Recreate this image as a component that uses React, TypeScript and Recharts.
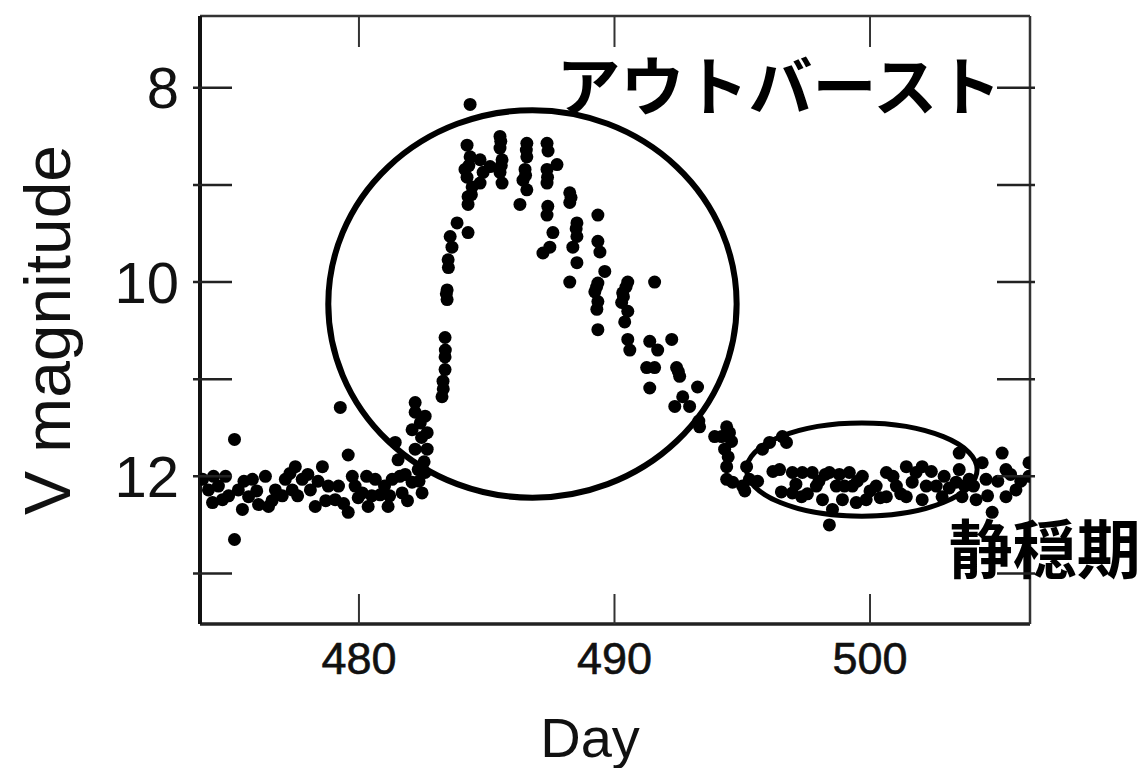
import React from 'react';
import { ScatterChart, Scatter, XAxis, YAxis, ReferenceArea, ReferenceDot, Label } from 'recharts';

// [day, V magnitude] pairs
const quiescenceBefore: [number, number][] = [
  [473.88, 12.03], [474.11, 12.14], [474.31, 12.0], [474.27, 12.27], [474.78, 12.0], [474.66, 12.24],
  [475.28, 12.14], [475.44, 12.34], [475.13, 11.62], [475.13, 12.65], [475.83, 12.03], [475.68, 12.21],
  [476.07, 12.29], [476.34, 12.0], [476.46, 12.31], [476.73, 12.14], [477.12, 12.03], [477.51, 11.9],
  [477.39, 12.14], [477.78, 12.03], [478.1, 12.14], [478.29, 12.31], [478.57, 11.9], [478.8, 12.1],
  [479.07, 12.24], [479.27, 11.29], [479.58, 11.78], [479.58, 12.37], [479.74, 12.0], [479.97, 12.22],
  [480.13, 12.17], [480.36, 12.31], [480.64, 12.03], [480.83, 12.19], [481.14, 12.31], [481.3, 12.03],
  [481.53, 11.83], [481.69, 12.17], [481.42, 11.65], [481.81, 11.98], [482.08, 12.06], [482.2, 11.72],
  [482.08, 11.52], [482.2, 11.34], [482.2, 11.24], [482.32, 11.93], [482.59, 11.96], [482.47, 12.17],
  [482.59, 11.38], [482.67, 11.55], [482.67, 11.72],
  [474.5, 12.1], [474.9, 12.2], [475.5, 12.05], [476.0, 12.15], [476.6, 12.25], [477.0, 12.2],
  [477.3, 11.97], [477.6, 12.2], [478.0, 11.98], [478.4, 12.05], [478.7, 12.25], [479.2, 12.1],
  [479.4, 12.28], [479.85, 12.1], [480.3, 12.0], [480.5, 12.2], [481.0, 12.1], [481.2, 12.2],
  [481.6, 12.0], [481.9, 12.25], [482.35, 12.05], [482.45, 11.6], [482.4, 11.45], [482.55, 11.85],
];

const outburst: [number, number][] = [
  [483.25, 11.18], [483.29, 11.02], [483.37, 10.9], [483.37, 10.77], [483.37, 10.57], [483.45, 10.18],
  [483.45, 10.08], [483.49, 9.77], [483.64, 9.64], [483.57, 9.53], [483.84, 9.39], [484.27, 9.49],
  [484.15, 8.84], [484.23, 8.59], [484.35, 8.71], [484.23, 8.92], [484.43, 9.02], [484.27, 9.12],
  [484.27, 9.2], [484.35, 8.17], [484.74, 8.74], [484.86, 8.87], [484.74, 8.98], [485.13, 8.81],
  [485.52, 8.5], [485.52, 8.62], [485.6, 8.74], [485.52, 8.87], [485.6, 8.98], [486.57, 8.57],
  [486.57, 8.71], [486.5, 8.84], [486.42, 8.95], [486.57, 9.05], [486.3, 9.2], [487.36, 8.57],
  [487.75, 8.79], [487.36, 8.84], [487.36, 8.98], [487.39, 9.22], [487.36, 9.31], [487.2, 9.7],
  [487.47, 9.64], [487.59, 9.49], [488.25, 9.08], [488.25, 9.18], [488.53, 9.39], [488.53, 9.53],
  [488.37, 9.64], [488.53, 9.8], [488.25, 10.0], [489.35, 9.31], [489.35, 9.58], [489.43, 9.69],
  [489.62, 9.89], [489.35, 10.01], [489.23, 10.1], [489.31, 10.28], [489.35, 10.49], [490.52, 10.0],
  [490.32, 10.11], [490.28, 10.21], [490.52, 10.3], [490.4, 10.41], [491.57, 10.0], [490.52, 10.59],
  [490.6, 10.7], [491.38, 10.61], [491.69, 10.7], [492.24, 10.59], [491.26, 10.88], [491.57, 10.88],
  [492.43, 10.88], [492.55, 10.97], [491.38, 11.09], [493.25, 11.08], [492.67, 11.18], [492.36, 11.28],
  [492.94, 11.28], [493.33, 11.49], [494.39, 11.49], [494.19, 11.59], [494.58, 11.64],
  [484.3, 8.8], [484.4, 9.1], [485.55, 8.55], [485.57, 8.8], [486.55, 8.64], [486.52, 8.9],
  [487.4, 8.65], [487.38, 8.92], [488.3, 9.13], [488.5, 9.45], [489.3, 10.05], [489.35, 10.2],
  [490.45, 10.05], [490.35, 10.15], [492.5, 10.92], [493.3, 11.43], [483.5, 9.85], [483.42, 10.12],
  [483.38, 10.7], [483.3, 11.1],
];

const quiescenceAfter: [number, number][] = [
  [493.92, 11.59], [494.5, 11.55], [494.31, 11.72], [494.39, 11.9], [494.39, 12.03], [494.62, 12.06],
  [495.01, 12.1], [495.17, 11.9], [495.28, 12.03], [495.79, 11.72], [496.07, 11.65], [496.57, 11.59],
  [496.73, 11.65], [496.46, 11.93], [496.53, 12.16], [496.96, 11.96], [497.35, 11.96], [496.96, 12.17],
  [497.32, 12.21], [497.74, 11.96], [497.9, 12.1], [498.14, 12.24], [498.41, 12.5], [498.41, 11.96],
  [498.68, 12.1], [498.92, 12.24], [499.19, 11.96], [499.31, 12.1], [499.46, 12.27], [498.53, 12.34],
  [499.7, 12.0], [499.85, 12.24], [500.24, 12.1], [500.64, 11.96], [500.64, 12.21], [501.03, 12.1],
  [501.42, 11.9], [501.65, 12.06], [501.42, 12.21], [502.04, 11.9], [502.2, 12.1], [502.04, 12.24],
  [502.59, 12.1], [502.82, 12.21], [503.49, 11.76], [503.49, 11.93], [503.37, 12.06], [503.6, 12.21],
  [503.88, 12.03], [504.15, 12.24], [504.39, 11.86], [504.54, 12.03], [504.78, 12.37], [505.17, 11.76],
  [505.32, 11.93], [505.32, 12.21], [505.71, 12.14], [506.22, 11.86], [506.22, 12.0],
  [495.6, 12.05], [496.2, 11.95], [497.1, 12.08], [497.55, 12.18], [498.0, 12.05], [498.25, 11.98],
  [498.8, 11.98], [499.0, 12.1], [499.5, 12.05], [500.0, 12.15], [500.4, 12.22], [500.9, 12.0],
  [501.2, 12.18], [501.8, 11.96], [502.4, 11.95], [502.9, 12.0], [503.1, 12.12], [503.7, 12.1],
  [504.05, 12.1], [504.6, 12.2], [505.0, 12.05], [505.5, 11.98], [505.9, 12.05], [494.45, 11.8],
  [495.1, 12.15],
];

const xDomain: [number, number] = [473.78, 506.26];
const yDomain: [number, number] = [7.26, 13.52];
const xTicks = [480, 490, 500];
const yTicks = [8, 9, 10, 11, 12, 13];
const yLabeledTicks = [8, 10, 12];

// annotation regions: [x1, x2, y1, y2] in data units
const outburstRegion = [478.8, 494.78, 8.23, 12.22];
const quiescentRegion = [495.17, 504.19, 11.45, 12.41];
const outburstText = 'アウトバースト';
const quiescentText = '静穏期';
const outburstTextPos = [487.73, 7.94];
const quiescentTextPos = [503.08, 12.71];

const toPoints = (arr: [number, number][]) => arr.map(([day, mag]) => ({ day, mag }));
const allPoints = [...toPoints(quiescenceBefore), ...toPoints(outburst), ...toPoints(quiescenceAfter)];

const FONT = '"Liberation Sans", Arial, Helvetica, sans-serif';
const JFONT = '"Noto Sans CJK JP", "Noto Sans CJK SC", sans-serif';

const LeftTick = (props: any) => {
  const { x, y, payload } = props;
  const labeled = yLabeledTicks.includes(payload.value);
  return (
    <g>
      <line x1={x - 7} x2={x + 32} y1={y} y2={y} stroke="#222" strokeWidth={2.5} />
      {labeled && (
        <text x={x - 21} y={y} textAnchor="end" dominantBaseline="central" fontFamily={FONT} fontSize={58} fill="#111">
          {payload.value}
        </text>
      )}
    </g>
  );
};

const RightTick = (props: any) => {
  const { x, y } = props;
  return <line x1={x - 33} x2={x + 5} y1={y} y2={y} stroke="#222" strokeWidth={2.5} />;
};

const BottomTick = (props: any) => {
  const { x, y, payload } = props;
  return (
    <g>
      <line x1={x} x2={x} y1={y - 30} y2={y} stroke="#333" strokeWidth={2} />
      <text x={x} y={y + 34} textAnchor="middle" dominantBaseline="central" fontFamily={FONT} fontSize={45}
        stroke="#111" strokeWidth={0.6} fill="#111">
        {payload.value}
      </text>
    </g>
  );
};

const TopTick = (props: any) => {
  const { x, y } = props;
  return <line x1={x} x2={x} y1={y} y2={y + 31} stroke="#333" strokeWidth={2} />;
};

const Dot = (props: any) => <circle cx={props.cx} cy={props.cy} r={6.5} fill="#000" />;

const EllipseShape = (sw: number) => (props: any) => {
  const { x, y, width, height } = props;
  return (
    <ellipse cx={x + width / 2} cy={y + height / 2} rx={Math.abs(width) / 2} ry={Math.abs(height) / 2}
      fill="none" stroke="#000" strokeWidth={sw} />
  );
};

const TextLabel = (text: string, size: number) => (props: any) => {
  const vb = props.viewBox || {};
  const cx = vb.cx ?? vb.x;
  const cy = vb.cy ?? vb.y;
  return (
    <text x={cx} y={cy} textAnchor="start" dominantBaseline="central" fontFamily={JFONT} fontWeight={700} fontSize={size} fill="#000">
      {text}
    </text>
  );
};

const XTitle = (props: any) => {
  const { x, y, width } = props.viewBox;
  return (
    <text x={x + width / 2 - 25} y={y + 133} textAnchor="middle" fontFamily={FONT} fontSize={56} fill="#111">
      Day
    </text>
  );
};

const YTitle = () => (
  <text x={0} y={0} transform="translate(70, 330) rotate(-90)" textAnchor="middle" fontFamily={FONT} fontSize={64}
    textLength={370} lengthAdjust="spacingAndGlyphs" fill="#111">
    V magnitude
  </text>
);

export default function App() {
  return (
    <div style={{ position: 'absolute', left: 0, top: 0, background: '#fff' }}>
      <ScatterChart width={1146} height={768} margin={{ top: 0, right: 0, bottom: 0, left: 0 }}>
        <XAxis dataKey="day" type="number" domain={xDomain} ticks={xTicks} allowDataOverflow
          height={144} tickSize={0} tickMargin={0} tick={<BottomTick />}
          axisLine={{ stroke: '#222', strokeWidth: 3.5 }} label={<Label content={<XTitle />} />} />
        <XAxis xAxisId="top" orientation="top" dataKey="day" type="number" domain={xDomain} ticks={xTicks} allowDataOverflow
          height={16} tickSize={0} tickMargin={0} tick={<TopTick />} axisLine={{ stroke: '#333', strokeWidth: 2.5 }} />
        <YAxis dataKey="mag" type="number" domain={yDomain} ticks={yTicks} reversed allowDataOverflow
          width={200} tickSize={0} tickMargin={0} tick={<LeftTick />}
          axisLine={{ stroke: '#111', strokeWidth: 4 }} label={<Label content={<YTitle />} />} />
        <YAxis yAxisId="right" orientation="right" dataKey="mag" type="number" domain={yDomain} ticks={yTicks} reversed allowDataOverflow
          width={116} tickSize={0} tickMargin={0} tick={<RightTick />} axisLine={{ stroke: '#333', strokeWidth: 2.5 }} />
        <Scatter data={allPoints} shape={<Dot />} isAnimationActive={false} />
        <Scatter data={allPoints} xAxisId="top" yAxisId="right" shape={() => null} isAnimationActive={false} />
        <ReferenceArea x1={outburstRegion[0]} x2={outburstRegion[1]} y1={outburstRegion[2]} y2={outburstRegion[3]}
          shape={EllipseShape(6)} ifOverflow="visible" />
        <ReferenceArea x1={quiescentRegion[0]} x2={quiescentRegion[1]} y1={quiescentRegion[2]} y2={quiescentRegion[3]}
          shape={EllipseShape(5)} ifOverflow="visible" />
        <ReferenceDot x={outburstTextPos[0]} y={outburstTextPos[1]} r={0} ifOverflow="visible"
          label={<Label content={TextLabel(outburstText, 64)} />} />
        <ReferenceDot x={quiescentTextPos[0]} y={quiescentTextPos[1]} r={0} ifOverflow="visible"
          label={<Label content={TextLabel(quiescentText, 64)} />} />
      </ScatterChart>
    </div>
  );
}
